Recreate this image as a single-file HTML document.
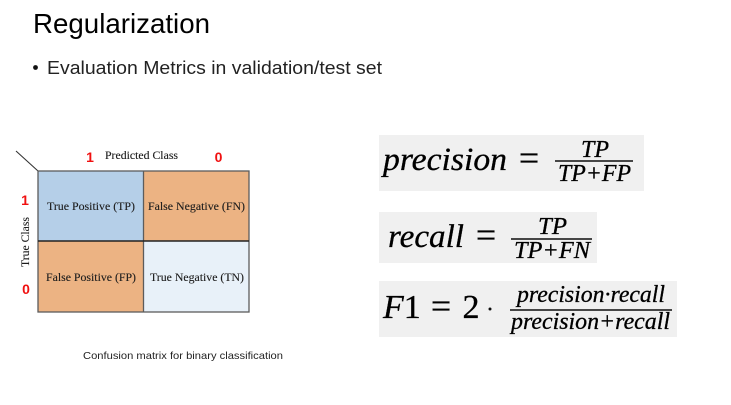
<!DOCTYPE html>
<html lang="en">
<head>
<meta charset="utf-8">
<title>Regularization</title>
<style>
html,body{margin:0;padding:0;background:#fff;width:731px;height:405px;overflow:hidden}
svg{display:block}
.sans{font-family:"Liberation Sans",sans-serif}
.serif{font-family:"Liberation Serif",serif}
.math{font-family:"Liberation Serif",serif;font-style:italic;fill:#000;stroke:#000;stroke-width:.3}
.cell{font-family:"Liberation Serif",serif;font-size:11.500px;fill:#1c1c1c;stroke:#1c1c1c;stroke-width:.12}
.red{font-family:"Liberation Sans",sans-serif;font-size:14px;font-weight:bold;fill:#f01010}
</style>
</head>
<body>
<svg width="731" height="405" viewBox="0 0 731 405">
<defs><filter id="b" x="-5%" y="-5%" width="110%" height="110%"><feGaussianBlur stdDeviation="0.32"/></filter></defs>

<text class="sans" x="33" y="33" font-size="27.500" fill="#000" textLength="177" lengthAdjust="spacingAndGlyphs">Regularization</text>
<circle cx="35.500" cy="67.500" r="2.400" fill="#111"/>
<text class="sans" x="47" y="74" font-size="18" fill="#222" textLength="335" lengthAdjust="spacingAndGlyphs">Evaluation Metrics in validation/test set</text>

<g filter="url(#b)">
  <line x1="16" y1="151" x2="38" y2="171" stroke="#333" stroke-width="1.100"/>
  <rect x="38" y="171" width="105.500" height="70" fill="#b5cfe8"/>
  <rect x="143.500" y="171" width="105.500" height="70" fill="#ecb383"/>
  <rect x="38" y="241" width="105.500" height="71" fill="#ecb383"/>
  <rect x="143.500" y="241" width="105.500" height="71" fill="#e8f1f9"/>
  <rect x="38" y="171" width="211" height="141" fill="none" stroke="#5c5c5c" stroke-width="1.300"/>
  <line x1="143.500" y1="171" x2="143.500" y2="312" stroke="#5c5c5c" stroke-width="1.300"/>
  <line x1="38" y1="241" x2="249" y2="241" stroke="#222" stroke-width="1.500"/>
  <text class="cell" x="47" y="210" textLength="88" lengthAdjust="spacingAndGlyphs">True Positive (TP)</text>
  <text class="cell" x="148" y="210" textLength="97" lengthAdjust="spacingAndGlyphs">False Negative (FN)</text>
  <text class="cell" x="46" y="281" textLength="90" lengthAdjust="spacingAndGlyphs">False Positive (FP)</text>
  <text class="cell" x="150" y="281" textLength="94" lengthAdjust="spacingAndGlyphs">True Negative (TN)</text>
  <text class="cell" x="105" y="159" textLength="73" lengthAdjust="spacingAndGlyphs">Predicted Class</text>
  <text class="cell" transform="translate(29 267) rotate(-90)" x="0" y="0" textLength="50" lengthAdjust="spacingAndGlyphs">True Class</text>
</g>
<text class="red" x="90" y="162" text-anchor="middle">1</text>
<text class="red" x="218.500" y="162" text-anchor="middle">0</text>
<text class="red" x="25" y="205" text-anchor="middle">1</text>
<text class="red" x="26" y="294" text-anchor="middle">0</text>
<text class="sans" x="83" y="359" font-size="10.500" fill="#222" textLength="200" lengthAdjust="spacingAndGlyphs">Confusion matrix for binary classification</text>

<g filter="url(#b)">
  <rect x="379" y="135" width="265" height="56" fill="#f0f0f0"/>
  <text class="math" x="383" y="170" font-size="33" textLength="124" lengthAdjust="spacingAndGlyphs">precision</text>
  <text class="serif" x="529" y="170" font-size="36" fill="#000" stroke="#000" stroke-width=".3" text-anchor="middle">=</text>
  <text class="math" x="581" y="157" font-size="24" textLength="28" lengthAdjust="spacingAndGlyphs">TP</text>
  <line x1="555" y1="161" x2="633" y2="161" stroke="#111" stroke-width="1.400"/>
  <text class="math" x="558" y="181" font-size="24" textLength="73" lengthAdjust="spacingAndGlyphs">TP+FP</text>
</g>

<g filter="url(#b)">
  <rect x="379" y="212" width="218" height="51" fill="#f0f0f0"/>
  <text class="math" x="388" y="247" font-size="33" textLength="76" lengthAdjust="spacingAndGlyphs">recall</text>
  <text class="serif" x="486" y="247" font-size="36" fill="#000" stroke="#000" stroke-width=".3" text-anchor="middle">=</text>
  <text class="math" x="538" y="234" font-size="24" textLength="29" lengthAdjust="spacingAndGlyphs">TP</text>
  <line x1="511" y1="239" x2="592" y2="239" stroke="#111" stroke-width="1.400"/>
  <text class="math" x="514" y="258" font-size="24" textLength="76" lengthAdjust="spacingAndGlyphs">TP+FN</text>
</g>

<g filter="url(#b)">
  <rect x="379" y="281" width="298" height="56" fill="#f0f0f0"/>
  <text x="383" y="318" font-size="34" fill="#000" stroke="#000" stroke-width=".3" class="serif"><tspan font-style="italic">F</tspan>1</text>
  <text class="serif" x="441" y="318" font-size="36" fill="#000" stroke="#000" stroke-width=".3" text-anchor="middle">=</text>
  <text class="serif" x="471" y="318" font-size="34" fill="#000" stroke="#000" stroke-width=".3" text-anchor="middle">2</text>
  <circle cx="490" cy="309" r="1.500" fill="#111"/>
  <text class="math" x="517" y="302" font-size="24" textLength="148" lengthAdjust="spacingAndGlyphs">precision·recall</text>
  <line x1="510" y1="310" x2="672" y2="310" stroke="#111" stroke-width="1.400"/>
  <text class="math" x="511" y="329" font-size="24" textLength="159" lengthAdjust="spacingAndGlyphs">precision+recall</text>
</g>
</svg>
</body>
</html>
